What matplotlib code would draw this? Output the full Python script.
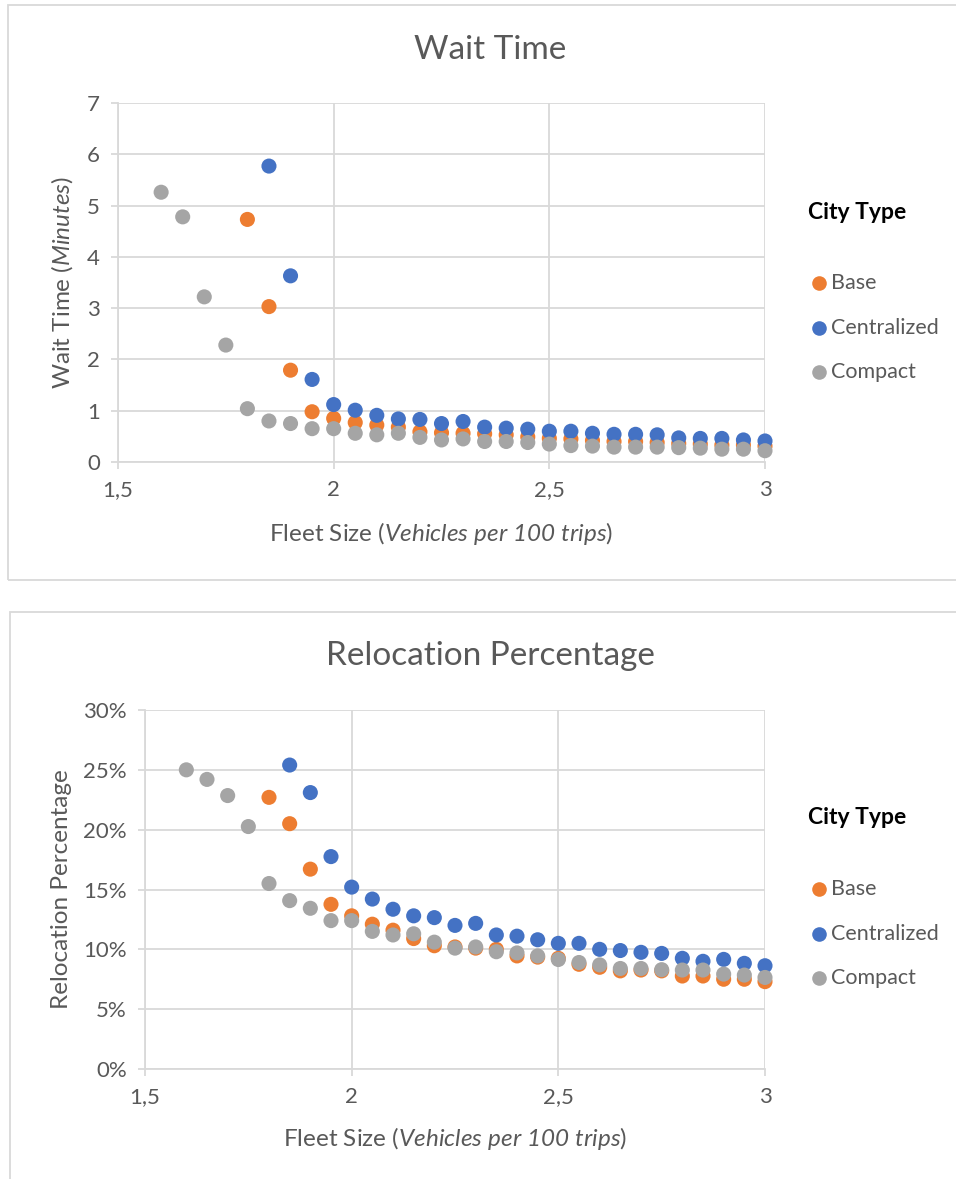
import numpy as np
import matplotlib.pyplot as plt
from matplotlib.lines import Line2D
from matplotlib.patches import Rectangle
from matplotlib.ticker import MultipleLocator, FuncFormatter, PercentFormatter

plt.rcParams['font.family'] = ['Lato', 'DejaVu Sans']
# math segments are used only for the italic parts of the axis labels
plt.rcParams['mathtext.fontset'] = 'custom'
plt.rcParams['mathtext.rm'] = 'Lato:italic'
plt.rcParams['mathtext.it'] = 'Lato:italic'

# fleet size grid (vehicles per 100 trips)
fleet_size = [1.6, 1.65, 1.7, 1.75, 1.8, 1.85, 1.9, 1.95, 2.0, 2.05, 2.1, 2.15, 2.2, 2.25,
              2.3, 2.35, 2.4, 2.45, 2.5, 2.55, 2.6, 2.65, 2.7, 2.75, 2.8, 2.85, 2.9, 2.95, 3.0]

city_types = ['Base', 'Centralized', 'Compact']
colors = ['#ED7D31', '#4472C4', '#A5A5A5']

# wait time in minutes, each series ends at fleet size 3
wait_base = [4.73, 3.03, 1.79, 0.98, 0.85, 0.77, 0.72, 0.68, 0.59, 0.57, 0.56, 0.55, 0.53,
             0.49, 0.46, 0.45, 0.42, 0.40, 0.40, 0.38, 0.36, 0.35, 0.33, 0.33, 0.31]
wait_centralized = [5.77, 3.63, 1.61, 1.12, 1.01, 0.91, 0.84, 0.83, 0.75, 0.79, 0.68, 0.66,
                    0.64, 0.60, 0.60, 0.56, 0.54, 0.54, 0.53, 0.47, 0.46, 0.46, 0.43, 0.41]
wait_compact = [5.26, 4.78, 3.22, 2.28, 1.04, 0.80, 0.75, 0.65, 0.65, 0.56, 0.53, 0.56, 0.48,
                0.43, 0.45, 0.40, 0.40, 0.38, 0.35, 0.32, 0.31, 0.29, 0.29, 0.29, 0.28, 0.27,
                0.25, 0.25, 0.22]

# relocation percentage (%)
reloc_base = [22.7, 20.5, 16.7, 13.76, 12.8, 12.1, 11.6, 10.9, 10.3, 10.2, 10.1, 10.0, 9.45,
              9.35, 9.25, 8.75, 8.5, 8.2, 8.27, 8.2, 7.77, 7.77, 7.5, 7.5, 7.3]
reloc_centralized = [25.4, 23.1, 17.75, 15.2, 14.2, 13.35, 12.8, 12.65, 12.0, 12.17, 11.2, 11.1,
                     10.8, 10.5, 10.5, 10.0, 9.9, 9.75, 9.66, 9.25, 9.0, 9.16, 8.83, 8.63]
reloc_compact = [25.0, 24.2, 22.85, 20.26, 15.5, 14.07, 13.43, 12.4, 12.4, 11.5, 11.2, 11.3, 10.6,
                 10.1, 10.2, 9.8, 9.7, 9.45, 9.15, 8.9, 8.7, 8.4, 8.4, 8.3, 8.27, 8.27, 7.93,
                 7.85, 7.65]

text_col = '#595959'
grid_col = '#D9D9D9'
W, H = 956, 1179

fig = plt.figure(figsize=(W / 100, H / 100), dpi=100)


def fx(px):
    return px / W


def fy(py):
    return 1 - py / H


# chart frames
fig.add_artist(Rectangle((fx(8), fy(580)), fx(960 - 8), fy(5) - fy(580), transform=fig.transFigure,
                         fill=False, edgecolor=grid_col, linewidth=1.3))
fig.add_artist(Rectangle((fx(10), fy(1190)), fx(960 - 10), fy(612) - fy(1190), transform=fig.transFigure,
                         fill=False, edgecolor=grid_col, linewidth=1.3))


def comma_fmt(v, pos):
    return f'{v:g}'.replace('.', ',')


xlabel = r'Fleet Size ($\mathrm{Vehicles}$ $\mathrm{per}$ $\mathrm{100}$ $\mathrm{trips}$)'


def make_chart(rect, series, title, title_y, ylabel, ymax, ystep, ylab_x, xlab_y, leg_y, percent=False):
    ax = fig.add_axes(rect)
    for vals, c in zip(series, colors):
        ax.scatter(fleet_size[-len(vals):], vals, s=118, color=c, edgecolors='none',
                   zorder=3, clip_on=False)
    ax.set_xlim(1.5, 3)
    ax.set_ylim(0, ymax)
    ax.xaxis.set_major_locator(MultipleLocator(0.5))
    ax.yaxis.set_major_locator(MultipleLocator(ystep))
    ax.xaxis.set_major_formatter(FuncFormatter(comma_fmt))
    if percent:
        ax.yaxis.set_major_formatter(PercentFormatter(xmax=100, decimals=0))
    ax.grid(True, color=grid_col, linewidth=1.3, zorder=0)
    for side in ['top', 'right']:
        ax.spines[side].set_visible(False)
    for side in ['left', 'bottom']:
        ax.spines[side].set_color(grid_col)
        ax.spines[side].set_linewidth(1.3)
    ax.tick_params(axis='both', direction='out', length=5, width=1.3, color=grid_col,
                   labelcolor=text_col, labelsize=16)
    ax.tick_params(axis='y', pad=8)
    ax.tick_params(axis='x', pad=8)
    ax.set_ylabel(ylabel, fontsize=17.5, color=text_col)
    ax.yaxis.set_label_coords(ylab_x, 0.5)
    ax.set_xlabel(xlabel, fontsize=17.5, color=text_col)
    ax.xaxis.set_label_coords(0.5, xlab_y)
    ax.xaxis.label.set_va('center')
    ax.yaxis.label.set_va('center')
    fig.text(fx(490), fy(title_y), title, fontsize=24, color=text_col, ha='center', va='center')

    # legend
    fig.text(fx(808), fy(leg_y), 'City Type', fontsize=16.5, fontweight='bold', color='black',
             ha='left', va='center')
    for i, (name, c) in enumerate(zip(city_types, colors)):
        yy = leg_y + 71 + 44.5 * i
        fig.add_artist(Line2D([fx(819)], [fy(yy)], marker='o', markersize=10.5, color=c,
                              markeredgewidth=0, linestyle='none', transform=fig.transFigure))
        fig.text(fx(831), fy(yy), name, fontsize=15.5, color=text_col, ha='left', va='center')
    return ax


make_chart([fx(118), fy(462), fx(765 - 118), fy(103) - fy(462)],
           [wait_base, wait_centralized, wait_compact],
           'Wait Time', 50, r'Wait Time ($\mathrm{Minutes}$)', 7, 1,
           (62 - 118) / 647, (462 - 533) / 359, 212)

make_chart([fx(145), fy(1069), fx(765 - 145), fy(710) - fy(1069)],
           [reloc_base, reloc_centralized, reloc_compact],
           'Relocation Percentage', 656, 'Relocation Percentage', 30, 5,
           (62 - 145) / 620, (1069 - 1138) / 359, 818, percent=True)

fig.savefig('out.png', dpi=100)
